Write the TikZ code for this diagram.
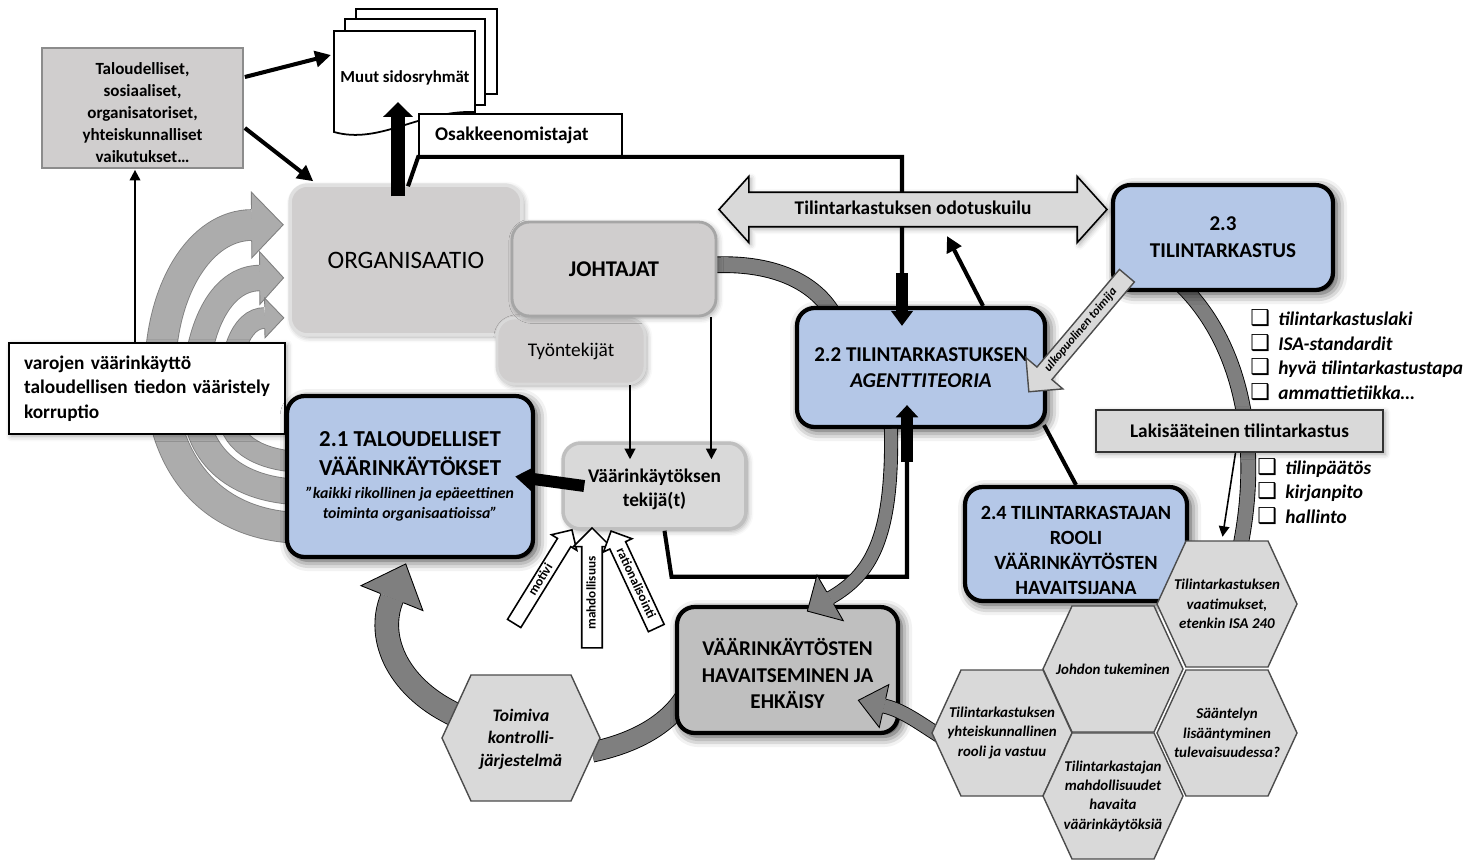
\documentclass[tikz,border=0pt]{standalone}
\usepackage{fontspec}
\setmainfont{Carlito}
\newfontfamily\symfont{DejaVu Sans}
\usetikzlibrary{arrows.meta,calc,shapes.arrows,shadows.blur,decorations.markings}

\definecolor{boxblue}{RGB}{180,199,231}
\definecolor{taupe}{RGB}{208,206,206}
\definecolor{lightgr}{RGB}{217,217,217}
\definecolor{midgr}{RGB}{191,191,191}
\definecolor{bandgr}{RGB}{127,127,127}
\definecolor{arcgr}{RGB}{172,172,172}
\definecolor{arcedge}{RGB}{128,128,128}

\newcommand{\fsz}[2]{\fontsize{#1}{#2}\selectfont}
\newcommand{\chk}{\makebox[0.56cm][l]{\symfont\bfseries\upshape\fsz{12.5}{12.5}❑}}
\newcommand{\hexcell}[3]{%
  \draw[hex line, shift={(#2)}] (-70,0) -- (-41,-63) -- (41,-63) -- (70,0) -- (41,63) -- (-41,63) -- cycle;
  \node[hex text] (#1) at (#2) {#3};}

\tikzset{
  soft shadow/.style={blur shadow={shadow xshift=1.2pt, shadow yshift=-1.2pt, shadow blur radius=3pt, shadow opacity=35}},
  strong shadow/.style={blur shadow={shadow xshift=2pt, shadow yshift=-2pt, shadow blur radius=6pt, shadow opacity=80}},
  blue box/.style={draw=black, line width=2.4pt, fill=boxblue, rounded corners=10pt, align=center, inner sep=0pt, strong shadow},
  gray box/.style={fill=taupe, rounded corners=10pt, align=center, inner sep=0pt},
  plain box/.style={draw=black, line width=0.9pt, fill=white, inner sep=0pt},
  doc/.style={draw=black, line width=1pt, fill=white},
  conn/.style={line width=2.3pt},
  thin arrow/.style={line width=1.1pt, -{Triangle[length=6pt,width=6pt]}},
  band/.style n args={4}{draw=#2, line width=#1, preaction={draw=#4, line width=#3}},
  band head/.style n args={5}{postaction={decorate, decoration={markings, mark=at position 0.999 with {
      \fill[#4] (0pt,-#2) -- (#3,0pt) -- (0pt,#2) -- cycle;
      \draw[#5, line width=0.5pt] (0pt,#1) -- (0pt,#2) -- (#3,0pt) -- (0pt,-#2) -- (0pt,-#1);}}}},
  hex line/.style={fill=lightgr, draw=black!70, line width=0.8pt},
  hex text/.style={align=center, inner sep=0pt, font=\bfseries\itshape\fsz{8.5}{11}},
  white arrow/.style={single arrow, draw=black, line width=0.9pt, fill=white, inner xsep=1pt,
      font=\bfseries\fsz{7.5}{8}, text height=5.5pt, text depth=1.5pt},
}

\begin{document}
\begin{tikzpicture}[x=0.02cm, y=-0.02cm]
\useasboundingbox (0,0) rectangle (1480,859);

% Vaikutukset takaisin organisaatioon
\draw[band={17pt}{arcgr}{18pt}{arcedge}, band head={9pt}{18.7pt}{18pt}{arcgr}{arcedge}]
  (300,528) .. controls (200,525) and (160,450) .. (160,375) .. controls (160,290) and (200,225) .. (252,225);
\draw[band={14pt}{arcgr}{15pt}{arcedge}, band head={7.5pt}{15pt}{13.6pt}{arcgr}{arcedge}]
  (300,492) .. controls (230,490) and (195,450) .. (195,400) .. controls (195,330) and (220,278) .. (260,278);
\draw[band={11.3pt}{arcgr}{12.3pt}{arcedge}, band head={6.2pt}{11.3pt}{10.8pt}{arcgr}{arcedge}]
  (300,462) .. controls (255,460) and (228,440) .. (228,410) .. controls (228,355) and (240,318) .. (265,318);

% Kehan kaaret
\draw[band={8.5pt}{bandgr}{9.5pt}{black}] (712,265) .. controls (770,262) and (812,280) .. (832,312);
\draw[band={8pt}{bandgr}{9pt}{black}] (1178,282) .. controls (1240,340) and (1262,440) .. (1240,548);
\draw[band={11pt}{bandgr}{12pt}{black}] (690,688) .. controls (675,720) and (640,742) .. (592,752);

% Vaikutukset ja sidosryhmat
\node[plain box, soft shadow, minimum width=5.52cm, minimum height=1.82cm, text width=4.92cm, inner xsep=0.3cm,
  align=left, font=\bfseries\fsz{11}{13.9}] (var) at (147,388.5) {varojen väärinkäyttö\\taloudellisen tiedon vääristely\\korruptio};
\node[draw=black!45, line width=1pt, fill=taupe, minimum width=4.02cm, minimum height=2.4cm, align=center, inner sep=0pt,
  font=\bfseries\fsz{9.7}{12.6}] (tal) at (142.5,108) {\rule{0pt}{12pt}Taloudelliset,\\sosiaaliset,\\organisatoriset,\\yhteiskunnalliset\\vaikutukset…};
\draw[doc] (356,9) rectangle (497,94);
\draw[doc] (345,19) rectangle (485,105);
\draw[doc] (334,31) -- (475,31) -- (475,112) .. controls (420,110) and (380,145) .. (334,132) -- cycle;
\node[font=\bfseries\fsz{9.6}{11}] (muut) at (405,78) {Muut sidosryhmät};

% Organisaatio
\node[gray box, draw=white!88!black, line width=2pt, soft shadow, minimum width=4.64cm, minimum height=3cm,
  font=\fsz{14.3}{17}] (org) at (406,260) {ORGANISAATIO};
\node[gray box, draw=white!85!black, line width=1.6pt, soft shadow, minimum width=2.96cm, minimum height=1.32cm,
  font=\fsz{11}{13}] (tyo) at (571,351) {Työntekijät};
\node[gray box, draw=black!35, line width=1.6pt, soft shadow, minimum width=4.08cm, minimum height=1.88cm,
  font=\bfseries\fsz{12.8}{15}] (joh) at (614,269) {JOHTAJAT};
\node[plain box, minimum width=4.06cm, minimum height=0.84cm, text width=3.42cm, inner xsep=0.32cm, align=left,
  font=\bfseries\fsz{11}{13}] (osak) at (520.5,135) {Osakkeenomistajat};

% Paalaatikot
\node[blue box, minimum width=4.96cm, minimum height=2.38cm, font=\bfseries\fsz{12}{14.7}] (tt22) at (921,367.5)
  {2.2 TILINTARKASTUKSEN\\\textit{AGENTTITEORIA}};
\node[blue box, minimum width=4.4cm, minimum height=2.1cm, font=\bfseries\fsz{12}{15.3}] (tt23) at (1223,237.5)
  {2.3\\TILINTARKASTUS};
\node[blue box, minimum width=4.44cm, minimum height=2.28cm, font=\bfseries\fsz{11.5}{14.2}] (tt24) at (1076,544)
  {\rule{0pt}{15pt}2.4 TILINTARKASTAJAN\\ROOLI\\VÄÄRINKÄYTÖSTEN\\HAVAITSIJANA};
\node[blue box, minimum width=4.92cm, minimum height=3.22cm, font=\bfseries\fsz{13}{16.4}] (tv) at (410,476.5)
  {2.1 TALOUDELLISET\\VÄÄRINKÄYTÖKSET\\[-3.4pt]{\itshape\fsz{9}{11}”kaikki rikollinen ja epäeettinen}\\[-5.1pt]{\itshape\fsz{9}{11}toiminta organisaatioissa”}};
\node[gray box, fill=lightgr, draw=black!25, line width=2pt, soft shadow, minimum width=3.66cm, minimum height=1.72cm,
  font=\bfseries\fsz{11}{13.6}] (tek) at (654.5,486) {\rule{0pt}{11.8pt}Väärinkäytöksen\\tekijä(t)};
\node[blue box, fill=midgr, minimum width=4.42cm, minimum height=2.52cm, font=\bfseries\fsz{12}{15.3}] (hav) at (787.5,670)
  {\rule{0pt}{13.8pt}VÄÄRINKÄYTÖSTEN\\HAVAITSEMINEN JA\\EHKÄISY};
\node[plain box, fill=lightgr, draw=black!80, soft shadow, minimum width=5.74cm, minimum height=0.84cm,
  font=\bfseries\fsz{11}{13}] (laki) at (1239.5,431) {Lakisääteinen tilintarkastus};

% Yhteydet
\coordinate (muutin) at (331,55);
\coordinate (muutup) at (398,102);
\coordinate (in22) at (902,273);
\coordinate (in22b) at (907,462);
\coordinate (odoin) at (947,236);
\draw[conn, -{Triangle[length=9pt,width=9pt]}] ($(tal.east)+(1,-31)$) -- (muutin);
\draw[conn, -{Triangle[length=9pt,width=9pt]}] ($(tal.east)+(1,20)$) -- ($(org.north west)+(25,-2)$);
\draw[thin arrow] ($(var.north)+(-12,0)$) -- ($(var.north |- tal.south)+(-12,1)$);
\draw[line width=8.5pt, -{Triangle[length=8.5pt,width=16.5pt]}] ($(org.north)+(-8,13)$) -- (muutup);
\draw[conn] ($(org.north)+(2,3)$) -- (osak.south west) -- (osak.south west -| in22) -- (in22);
\draw[line width=6.8pt, -{Triangle[length=8.5pt,width=12pt]}] (in22) -- ($(in22 |- tt22.north)+(0,20)$);
\draw[conn] ($(tek.south)+(10,0)$) -- ++(7,46) -| (in22b);
\draw[line width=6.8pt, -{Triangle[length=7pt,width=12.5pt]}] (in22b) -- ($(in22b |- tt22.south)+(0,-24)$);
\draw[conn, -{Triangle[length=9pt,width=9pt]}] ($(tt22.north)+(62,0)$) -- (odoin);
\draw[conn] ($(tt22.south east)+(-3,-4)$) -- (tt24.north);
\draw[thin arrow] ($(joh.south east)+(-6,0)$) -- ($(joh.south east |- tek.north)+(-6,18)$);
\draw[thin arrow] ($(tyo.south)+(59,0)$) -- ($(tyo.south |- tek.north)+(59,18)$);
\draw[line width=6.8pt, -{Triangle[length=10pt,width=13pt]}] ($(tek.west)+(23,0)$) -- ($(tv.east)+(-20,0)$);
\draw[thin arrow, line width=0.9pt] ($(laki.south)+(-4,0)$) -- ++(-13,84);

% Odotuskuilu
\node[double arrow, draw=black, line width=0.9pt, fill=lightgr, soft shadow, minimum height=7.76cm,
  double arrow head extend=9pt, double arrow tip angle=96, text height=8pt, text depth=2.5pt, inner ysep=4.1pt,
  font=\bfseries\fsz{11}{13}] (odo) at (913,209.5) {Tilintarkastuksen odotuskuilu};

% Kehan nuolet
\draw[band={7pt}{bandgr}{8pt}{black}, band head={4pt}{15pt}{15pt}{bandgr}{black}]
  (891,429) .. controls (893,540) and (870,575) .. (830,598);
\draw[band={7.5pt}{bandgr}{8.5pt}{black}, band head={4.25pt}{12.5pt}{15pt}{bandgr}{black}]
  (940,736) .. controls (918,722) and (902,710) .. (884,706);
\draw[band={13pt}{bandgr}{14pt}{black}, band head={7pt}{19pt}{21pt}{bandgr}{black}]
  (458,716) .. controls (400,690) and (375,640) .. (392,598);

% Kuusikulmiot
\draw[hex line, shift={(521,738)}] (-79,0) -- (-50,-63) -- (50,-63) -- (79,0) -- (50,63) -- (-50,63) -- cycle;
\node[hex text, font=\bfseries\itshape\fsz{10}{12.8}] (toim) at (521,739) {Toimiva\\kontrolli-\\järjestelmä};
\hexcell{vaat}{1227,604}{Tilintarkastuksen\\vaatimukset,\\etenkin ISA 240}
\hexcell{johdon}{1113,669}{Johdon tukeminen}
\hexcell{saant}{1227,733}{Sääntelyn\\lisääntyminen\\tulevaisuudessa?}
\hexcell{yhteis}{1002,733}{Tilintarkastuksen\\yhteiskunnallinen\\rooli ja vastuu}
\hexcell{mahd}{1113,796}{Tilintarkastajan\\mahdollisuudet\\havaita\\väärinkäytöksiä}

% Petoskolmio
\node[white arrow, rotate=58.3, minimum height=2.2cm, inner ysep=0.5pt, single arrow head extend=4pt] (motivi) at (541,580) {motivi};
\node[white arrow, rotate=90, minimum height=2.4cm, inner ysep=1.9pt, single arrow head extend=4.8pt] (mahdol) at (592,593) {mahdollisuus};
\node[white arrow, rotate=-65, shape border rotate=180, minimum height=2.14cm, inner ysep=1pt, single arrow head extend=4pt] (ratio) at (635.5,583.5) {rationalisointi};
\node[single arrow, draw=black!70, line width=0.8pt, fill=lightgr, rotate=49.8, shape border rotate=180, minimum height=3.04cm,
  single arrow head extend=8.2pt, text height=5pt, text depth=1.5pt, inner ysep=1.9pt, inner xsep=1pt,
  font=\bfseries\itshape\fsz{7}{8}] (ulko) at (1081,330) {ulkopuolinen toimija};

% Listat
\node[anchor=west, align=left, inner sep=0pt, font=\bfseries\itshape\fsz{11}{14}] (normit) at (1250,355)
  {\chk tilintarkastuslaki\\\chk ISA-standardit\\\chk hyvä tilintarkastustapa\\\chk ammattietiikka…};
\node[anchor=west, align=left, inner sep=0pt, font=\bfseries\itshape\fsz{11}{13.9}] (kohteet) at (1257,491.5)
  {\chk tilinpäätös\\\chk kirjanpito\\\chk hallinto};
\end{tikzpicture}
\end{document}
